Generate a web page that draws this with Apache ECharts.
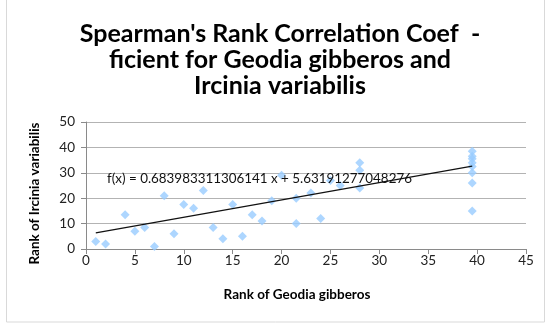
<!DOCTYPE html>
<html>
<head>
<meta charset="utf-8">
<script src="https://cdn.jsdelivr.net/npm/echarts@6/dist/echarts.min.js"></script>
<style>
    html, body { margin: 0; padding: 0; background: #fff; }
    #chart { width: 547px; height: 332px; }
</style>
</head>
<body>
<div id="chart"></div>
<script>
// data ranks
const geodiaRank = [1, 2, 4, 5, 6, 7, 8, 9, 10, 11, 12, 13, 14, 15, 16, 17, 18, 19, 20, 21.5, 21.5, 23, 24, 25, 26, 28, 28, 28,
    39.5, 39.5, 39.5, 39.5, 39.5, 39.5, 39.5, 39.5];
const ircinaRank = [3, 2, 13.5, 7, 8.5, 1, 21, 6, 17.5, 16, 23, 8.5, 4, 17.5, 5, 13.5, 11, 19, 29, 20, 10, 22, 12, 27, 25, 34, 31, 24,
    38.5, 36.5, 35.5, 34, 32.5, 30, 26, 15];

// garis trend (ujung-ujungnya)
const trendX = [1, 39.5];
const trendY = [6.32, 32.65];
const trendLabel = 'f(x) = 0.683983311306141 x + 5.63191277048276';

const xTicks = [0, 5, 10, 15, 20, 25, 30, 35, 40, 45];
const yTicks = [0, 10, 20, 30, 40, 50];

const chart = echarts.init(document.getElementById('chart'));

const points = geodiaRank.map((x, i) => [x, ircinaRank[i]]);
const trend = trendX.map((x, i) => [x, trendY[i]]);

const option = {
    animation: false,
    backgroundColor: '#fff',
    textStyle: { fontFamily: 'Lato' },
    title: {
        text: "Spearman's Rank Correlation Coef  -\nficient for Geodia gibberos and\nIrcinia variabilis",
        left: 275,
        top: 16,
        textAlign: 'center',
        textStyle: { fontFamily: 'Lato', fontWeight: 'bold', fontSize: 25, lineHeight: 26, color: '#000' }
    },
    grid: { left: 86, right: 21, top: 122, bottom: 83 },
    xAxis: {
        type: 'value',
        min: xTicks[0],
        max: xTicks[xTicks.length - 1],
        interval: 5,
        name: 'Rank of Geodia gibberos',
        nameLocation: 'middle',
        nameGap: 39,
        nameTextStyle: { fontFamily: 'Lato', fontWeight: 'bold', fontSize: 13.5, color: '#000', padding: [0, 18, 0, 0] },
        axisLine: { lineStyle: { color: '#8a8a8a' } },
        axisTick: { show: true, length: 5, lineStyle: { color: '#8a8a8a' } },
        axisLabel: { fontSize: 13.5, color: '#222', margin: 5 },
        splitLine: { show: false }
    },
    yAxis: {
        type: 'value',
        min: yTicks[0],
        max: yTicks[yTicks.length - 1],
        interval: 10,
        name: 'Rank of Ircinia variabilis',
        nameLocation: 'middle',
        nameGap: 44,
        nameTextStyle: { fontFamily: 'Lato', fontWeight: 'bold', fontSize: 13.5, color: '#000', padding: [0, 16, 0, 0] },
        axisLine: { show: true, lineStyle: { color: '#8a8a8a' } },
        axisTick: { show: true, length: 5, lineStyle: { color: '#8a8a8a' } },
        axisLabel: { fontSize: 13.5, color: '#222', margin: 11 },
        splitLine: { show: true, lineStyle: { color: '#b3b3b3', width: 1 } }
    },
    graphic: [
        {
            type: 'rect',
            shape: { x: 6.5, y: -5, width: 538, height: 327 },
            style: { fill: 'none', stroke: '#d9d9d9', lineWidth: 1 },
            z: -1
        },
        {
            type: 'text',
            left: 107,
            top: 172,
            style: { text: trendLabel, font: '13.4px Lato', fill: '#111' },
            z: 10
        }
    ],
    series: [
        {
            type: 'scatter',
            data: points,
            symbol: 'diamond',
            symbolSize: 9,
            itemStyle: { color: '#99ccff' }
        },
        {
            type: 'line',
            data: trend,
            symbol: 'none',
            lineStyle: { color: '#111', width: 1.2 },
            z: 5
        }
    ]
};

chart.setOption(option);
</script>
</body>
</html>
